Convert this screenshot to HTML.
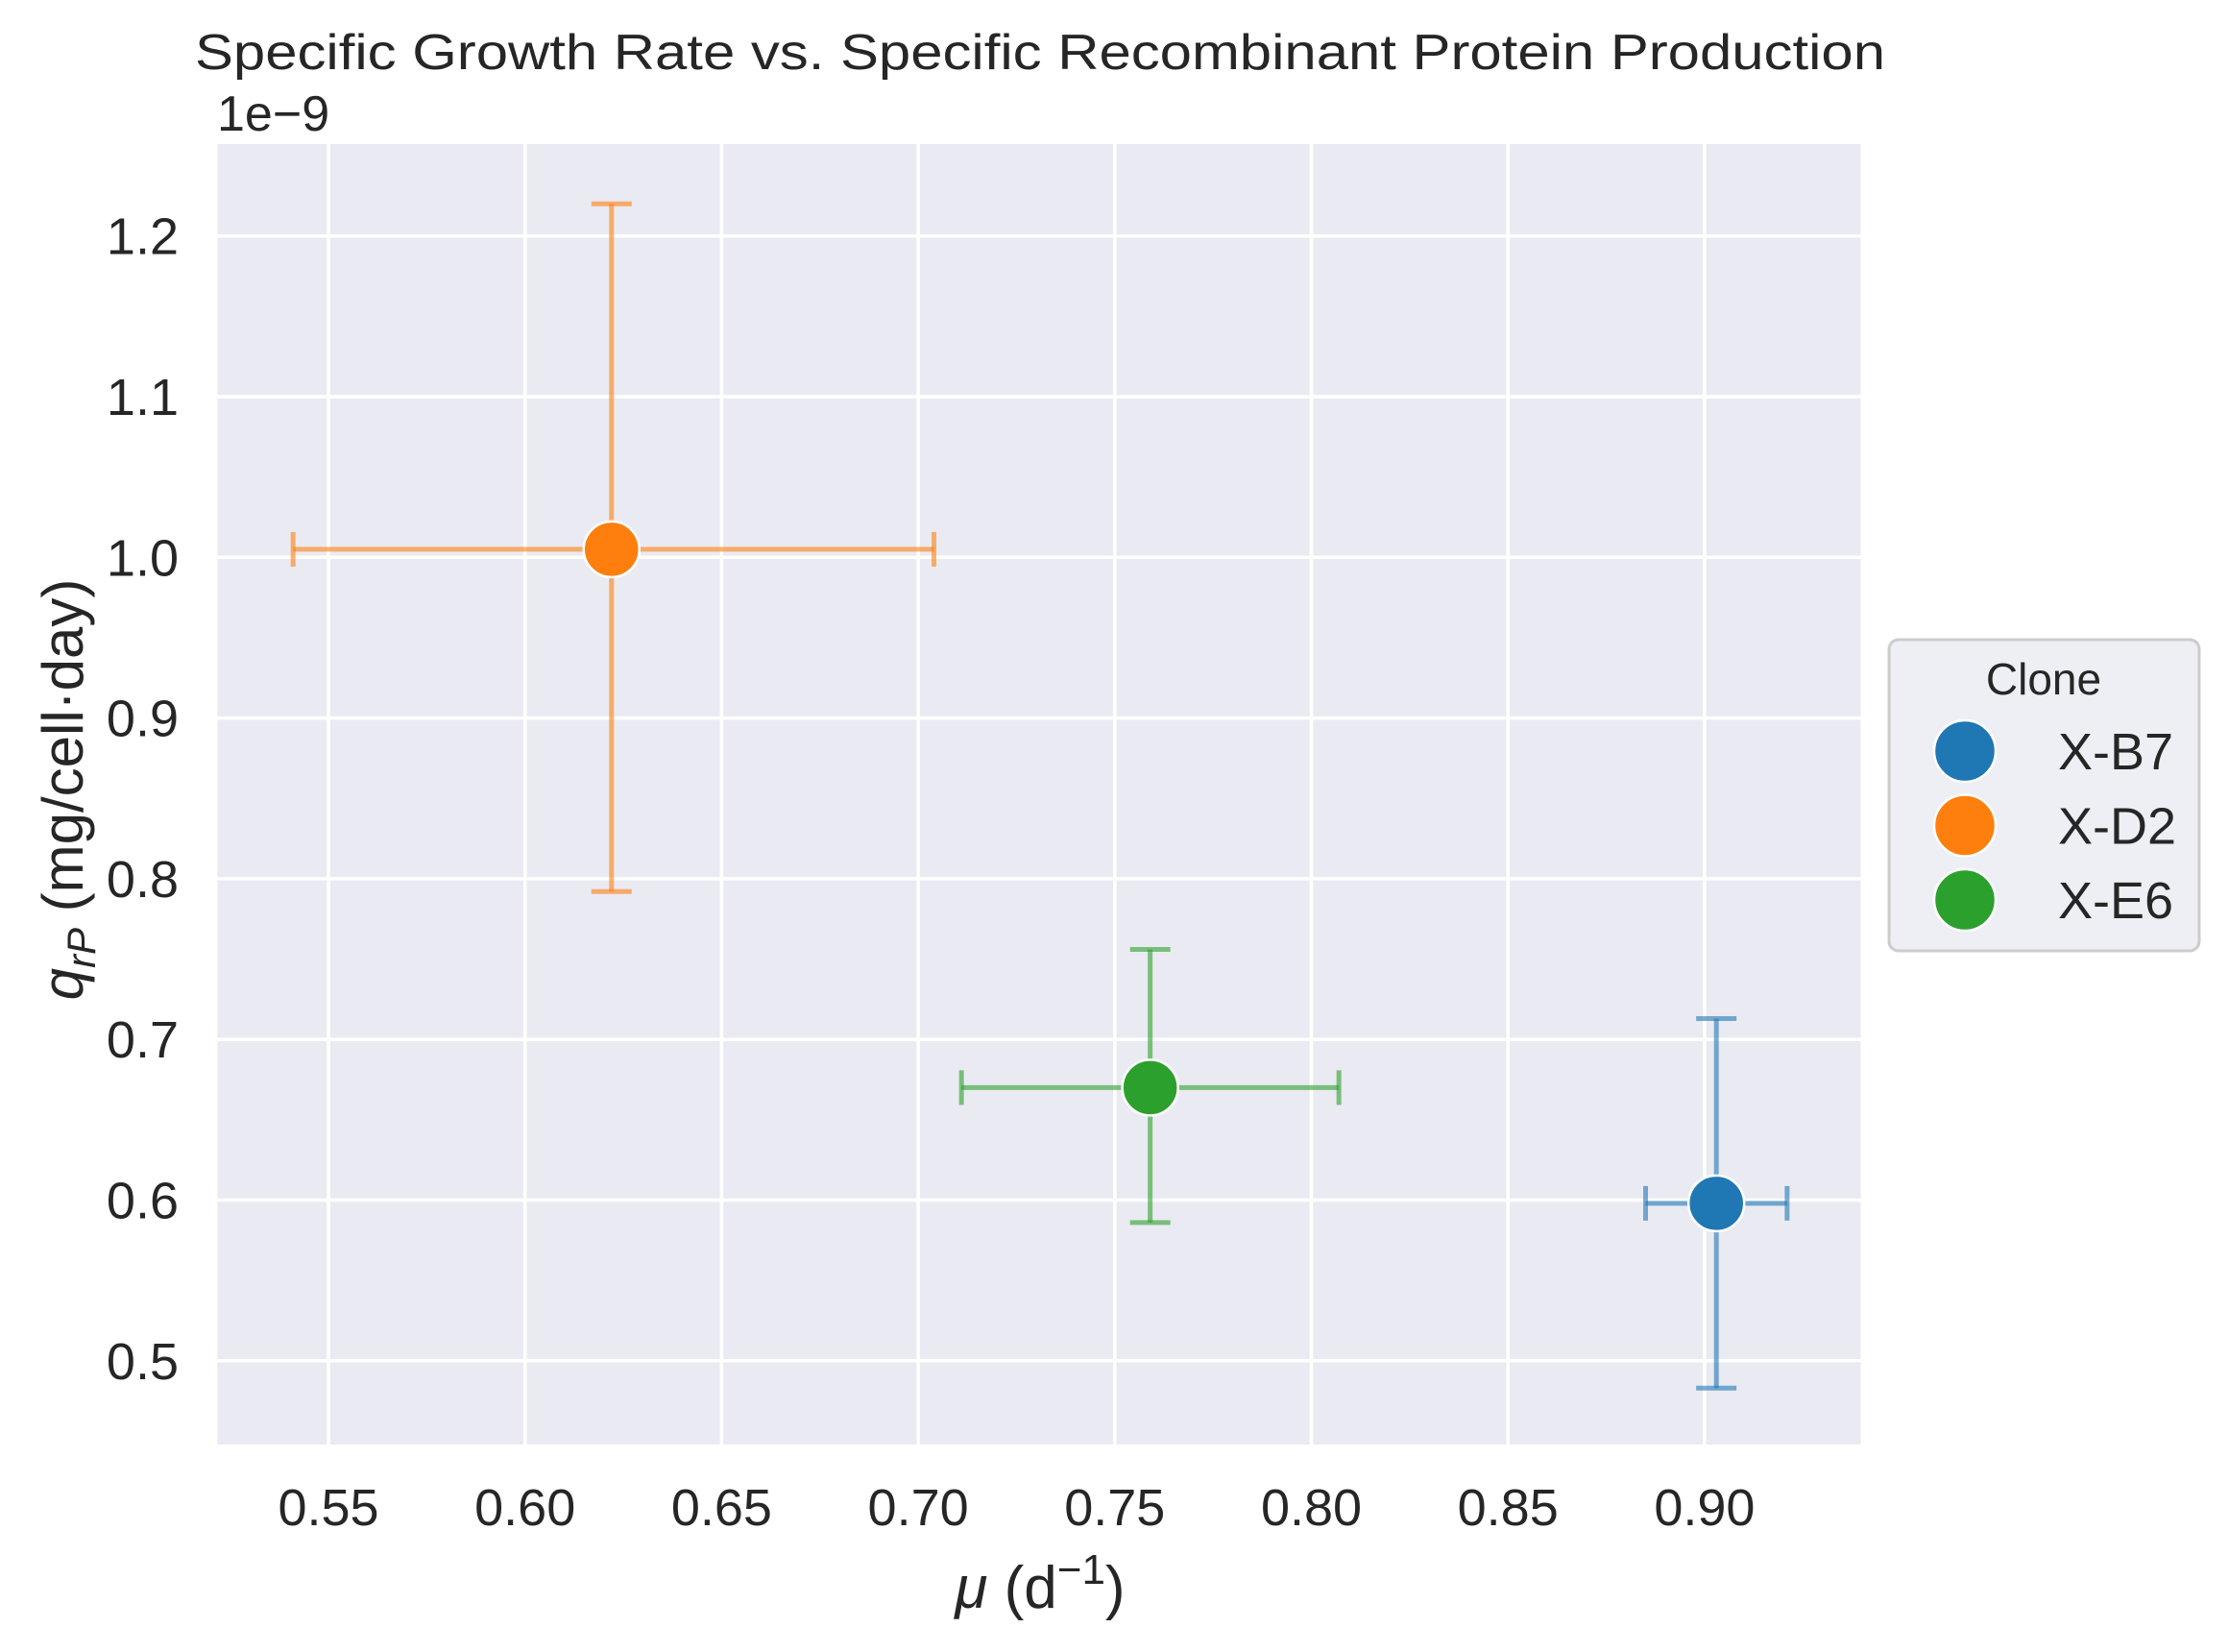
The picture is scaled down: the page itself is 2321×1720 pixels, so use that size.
<!DOCTYPE html>
<html><head><meta charset="utf-8"><style>
html,body{margin:0;padding:0;background:#fff}
text{font-family:"Liberation Sans","DejaVu Sans",sans-serif;fill:#262626}
</style></head><body>
<svg id="chart" width="2321" height="1715" viewBox="0 0 2321 1715" xmlns="http://www.w3.org/2000/svg">
<text x="203" y="72" font-size="52" textLength="1760" lengthAdjust="spacingAndGlyphs">Specific Growth Rate vs. Specific Recombinant Protein Production</text>
<text x="226" y="136" font-size="52">1e−9</text>
<rect x="226.5" y="150" width="1711" height="1354" fill="#eaeaf2"/>
<g id="grid"></g>
<g id="ticks"></g>
<g id="marks"></g>
<text x="1083" y="1674" font-size="62" text-anchor="middle"><tspan font-style="italic">μ</tspan> (d<tspan dy="-25" font-size="44">−1</tspan><tspan dy="25">)</tspan></text>
<text transform="translate(86,822) rotate(-90)" font-size="60" text-anchor="middle"><tspan font-style="italic">q</tspan><tspan font-style="italic" font-size="42" dy="13">rP</tspan><tspan dy="-13"> (mg/cell·day)</tspan></text>
<g>
<rect x="1967" y="666" width="323" height="324" rx="10" fill="#eaeaf2" fill-opacity="0.8" stroke="#cccccc" stroke-width="3"/>
<text x="2128" y="723" font-size="46" text-anchor="middle">Clone</text>
<g id="legend-items"></g>
</g>
</svg>
<script>
const clones = ["X-B7","X-D2","X-E6"];
const colors = ["#1f77b4","#ff7f0e","#2ca02c"];
const muMean = [0.903, 0.622, 0.759];
const muLow = [0.885, 0.541, 0.711];
const muHigh = [0.921, 0.704, 0.807];
const qMean = [0.598, 1.005, 0.670];
const qLow = [0.483, 0.792, 0.586];
const qHigh = [0.713, 1.220, 0.756];
const xTicks = ["0.55","0.60","0.65","0.70","0.75","0.80","0.85","0.90"];
const yTicks = ["0.5","0.6","0.7","0.8","0.9","1.0","1.1","1.2"];

const NS = "http://www.w3.org/2000/svg";
const X = v => 342 + (v - 0.55) / 0.05 * 204.7;
const Y = v => 245.7 - (v - 1.2) / 0.1 * 167.3;
function mk(tag, attrs, parent){
  const e = document.createElementNS(NS, tag);
  for (const k in attrs) e.setAttribute(k, attrs[k]);
  parent.appendChild(e); return e;
}
const grid = document.getElementById("grid"), ticks = document.getElementById("ticks");
xTicks.forEach(t => {
  const x = X(parseFloat(t));
  const l = mk("line", {x1:x, x2:x, y1:150, y2:1504, stroke:"#fff", "stroke-width":3.5}, grid);
  
  
  const tx = mk("text", {x:x, y:1588, "font-size":54, "text-anchor":"middle"}, ticks);
  tx.textContent = t;
  
  
});
yTicks.forEach(t => {
  const y = Y(parseFloat(t));
  const l = mk("line", {x1:226.5, x2:1937.5, y1:y, y2:y, stroke:"#fff", "stroke-width":3.5}, grid);
  
  
  const tx = mk("text", {x:186, y:y + 19, "font-size":54, "text-anchor":"end"}, ticks);
  tx.textContent = t;
  
  
});
const marks = document.getElementById("marks");
clones.forEach((c, i) => {
  const g = mk("g", {}, marks);
  
  
  const eg = mk("g", {stroke:colors[i], "stroke-width":5, "stroke-opacity":0.6}, g);
  
  
  const cx = X(muMean[i]), cy = Y(qMean[i]);
  const xl = X(muLow[i]), xh = X(muHigh[i]), yl = Y(qLow[i]), yh = Y(qHigh[i]);
  mk("line", {x1:xl, x2:xh, y1:cy, y2:cy}, eg);
  mk("line", {x1:cx, x2:cx, y1:yl, y2:yh}, eg);
  mk("line", {x1:xl, x2:xl, y1:cy-18, y2:cy+18}, eg);
  mk("line", {x1:xh, x2:xh, y1:cy-18, y2:cy+18}, eg);
  mk("line", {x1:cx-21, x2:cx+21, y1:yl, y2:yl}, eg);
  mk("line", {x1:cx-21, x2:cx+21, y1:yh, y2:yh}, eg);
  const p = mk("circle", {cx:cx, cy:cy, r:29, fill:colors[i], stroke:"#fff", "stroke-width":2.5}, g);
  
  
});
const li = document.getElementById("legend-items");
clones.forEach((c, i) => {
  const y = 782 + i * 77.5;
  const g = mk("g", {}, li);
  
  
  mk("circle", {cx:2046, cy:y, r:32, fill:colors[i], stroke:"#fff", "stroke-width":2.5}, g);
  const t = mk("text", {x:2143, y:y + 19, "font-size":54}, g);
  t.textContent = c;
});
</script>
</body></html>
